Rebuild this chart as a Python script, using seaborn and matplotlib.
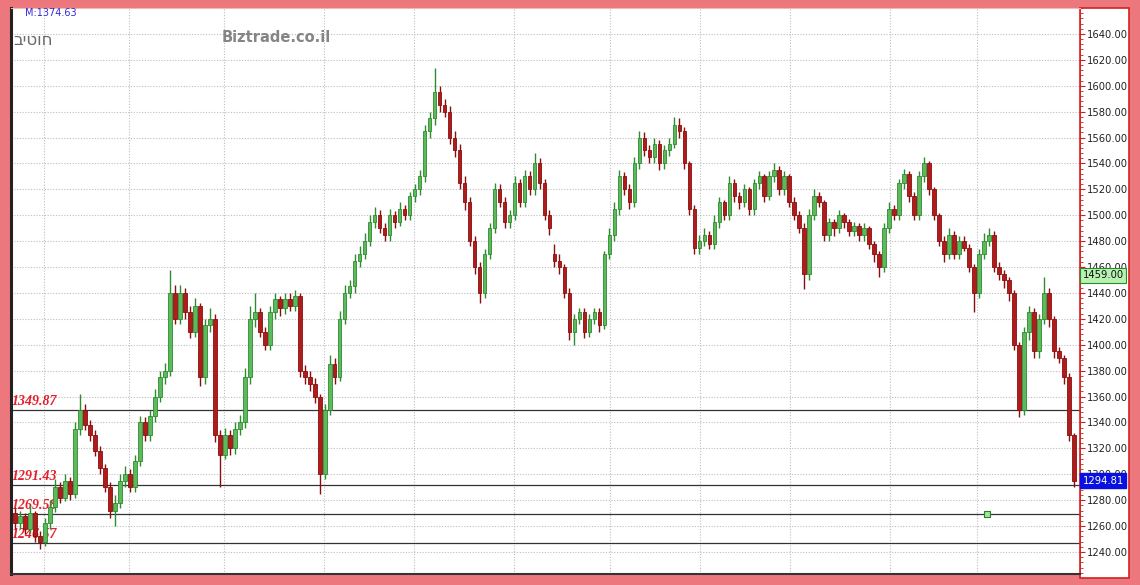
import matplotlib
matplotlib.use("Agg")
import matplotlib.pyplot as plt
from matplotlib.patches import Rectangle
from matplotlib.ticker import MultipleLocator
import seaborn as sns
import pandas as pd
import numpy as np

# daily candles (oldest first)
opens = [
    1270, 1262, 1268, 1258, 1270, 1252, 1248, 1262, 1275, 1290,
    1282, 1295, 1285, 1335, 1350, 1338, 1330, 1318, 1305, 1290,
    1272, 1278, 1295, 1300, 1290, 1310, 1340, 1330, 1345, 1360,
    1375, 1380, 1440, 1420, 1440, 1425, 1410, 1430, 1375, 1415,
    1420, 1330, 1315, 1330, 1320, 1335, 1340, 1375, 1420, 1425,
    1410, 1400, 1425, 1435, 1428, 1435, 1430, 1438, 1380, 1375,
    1370, 1360, 1300, 1350, 1385, 1375, 1420, 1440, 1445, 1465,
    1470, 1480, 1495, 1500, 1490, 1485, 1500, 1495, 1505, 1500,
    1515, 1520, 1530, 1565, 1575, 1595, 1585, 1580, 1560, 1550,
    1525, 1510, 1480, 1460, 1440, 1470, 1490, 1520, 1510, 1495,
    1500, 1525, 1510, 1530, 1520, 1540, 1525, 1500, 1470, 1465,
    1460, 1440, 1410, 1420, 1425, 1410, 1420, 1425, 1415, 1470,
    1485, 1505, 1530, 1520, 1510, 1540, 1560, 1550, 1545, 1555,
    1540, 1550, 1555, 1570, 1565, 1540, 1505, 1475, 1480, 1485,
    1478, 1495, 1510, 1500, 1525, 1515, 1510, 1520, 1505, 1525,
    1530, 1515, 1530, 1535, 1520, 1530, 1510, 1500, 1490, 1455,
    1500, 1515, 1510, 1485, 1495, 1490, 1500, 1495, 1488, 1492,
    1485, 1490, 1478, 1470, 1460, 1490, 1505, 1500, 1525, 1532,
    1515, 1500, 1530, 1540, 1520, 1500, 1480, 1470, 1485, 1470,
    1480, 1475, 1460, 1440, 1470, 1480, 1485, 1460, 1455, 1450,
    1440, 1400, 1350, 1410, 1425, 1395, 1420, 1440, 1420, 1395,
    1390, 1375, 1330,
]
highs = [
    1274, 1272, 1270, 1276, 1272, 1256, 1266, 1280, 1296, 1294,
    1300, 1298, 1340, 1362, 1354, 1342, 1334, 1322, 1308, 1294,
    1284, 1300, 1306, 1304, 1315, 1345, 1344, 1350, 1366, 1380,
    1386, 1458, 1446, 1446, 1444, 1430, 1436, 1432, 1420, 1428,
    1424, 1334, 1336, 1334, 1340, 1346, 1382, 1430, 1440, 1428,
    1414, 1430, 1440, 1438, 1440, 1440, 1442, 1440, 1384, 1380,
    1374, 1362, 1354, 1392, 1390, 1426, 1446, 1450, 1470, 1476,
    1486, 1500, 1506, 1504, 1494, 1505, 1503, 1510, 1508, 1518,
    1524, 1535, 1570, 1580, 1614, 1600, 1590, 1584, 1565, 1555,
    1530, 1514, 1484, 1464, 1474, 1494, 1525, 1524, 1514, 1504,
    1530, 1528, 1535, 1534, 1548, 1544, 1528, 1504, 1478, 1470,
    1462, 1444, 1424, 1428, 1428, 1424, 1428, 1428, 1472, 1490,
    1510, 1535, 1533, 1524, 1545, 1565, 1564, 1554, 1560, 1558,
    1554, 1560, 1576, 1575, 1568, 1542, 1508, 1485, 1490, 1488,
    1500, 1514, 1512, 1530, 1528, 1518, 1524, 1522, 1528, 1534,
    1532, 1534, 1540, 1538, 1534, 1532, 1514, 1503, 1494, 1505,
    1520, 1518, 1512, 1498, 1497, 1504, 1502, 1497, 1495, 1494,
    1494, 1492, 1480, 1472, 1494, 1510, 1508, 1528, 1536, 1534,
    1518, 1534, 1545, 1542, 1522, 1502, 1484, 1490, 1488, 1484,
    1484, 1478, 1462, 1474, 1486, 1490, 1488, 1464, 1458, 1452,
    1442, 1402, 1414, 1430, 1428, 1424, 1452, 1444, 1422, 1398,
    1392, 1378, 1332,
]
lows = [
    1258, 1258, 1254, 1255, 1248, 1242, 1245, 1258, 1271, 1278,
    1279, 1280, 1282, 1330, 1334, 1326, 1314, 1300, 1286, 1266,
    1260, 1274, 1290, 1286, 1286, 1306, 1326, 1326, 1340, 1356,
    1370, 1376, 1416, 1416, 1420, 1405, 1406, 1368, 1370, 1410,
    1325, 1290, 1312, 1315, 1316, 1330, 1336, 1370, 1414, 1406,
    1396, 1396, 1420, 1422, 1424, 1426, 1426, 1375, 1370, 1364,
    1355, 1285, 1296, 1346, 1370, 1372, 1416, 1436, 1440, 1460,
    1466, 1476, 1490, 1486, 1480, 1480, 1490, 1492, 1496, 1496,
    1510, 1516, 1526, 1560, 1570, 1580, 1576, 1555, 1545, 1520,
    1504, 1476, 1455, 1432, 1436, 1466, 1486, 1506, 1490, 1490,
    1496, 1506, 1506, 1516, 1516, 1520, 1496, 1485, 1460, 1455,
    1436, 1404, 1400, 1416, 1405, 1406, 1416, 1410, 1412, 1466,
    1480, 1500, 1516, 1505, 1506, 1536, 1546, 1540, 1540, 1535,
    1536, 1546, 1552, 1560, 1536, 1500, 1470, 1470, 1476, 1474,
    1474, 1490, 1496, 1496, 1510, 1505, 1506, 1500, 1500, 1520,
    1510, 1512, 1526, 1516, 1516, 1506, 1496, 1486, 1443, 1450,
    1496, 1506, 1480, 1480, 1484, 1486, 1490, 1484, 1484, 1480,
    1480, 1474, 1464, 1452, 1456, 1486, 1496, 1496, 1520, 1510,
    1496, 1496, 1526, 1516, 1496, 1476, 1464, 1466, 1466, 1466,
    1472, 1456, 1425, 1436, 1466, 1476, 1456, 1450, 1444, 1434,
    1396, 1344, 1346, 1404, 1390, 1390, 1416, 1414, 1390, 1386,
    1370, 1326, 1290,
]
closes = [
    1262, 1268, 1258, 1270, 1252, 1248, 1262, 1275, 1290, 1282,
    1295, 1285, 1335, 1350, 1338, 1330, 1318, 1305, 1290, 1272,
    1278, 1295, 1300, 1290, 1310, 1340, 1330, 1345, 1360, 1375,
    1380, 1440, 1420, 1440, 1425, 1410, 1430, 1375, 1415, 1420,
    1330, 1315, 1330, 1320, 1335, 1340, 1375, 1420, 1425, 1410,
    1400, 1425, 1435, 1428, 1435, 1430, 1438, 1380, 1375, 1370,
    1360, 1300, 1350, 1385, 1375, 1420, 1440, 1445, 1465, 1470,
    1480, 1495, 1500, 1490, 1485, 1500, 1495, 1505, 1500, 1515,
    1520, 1530, 1565, 1575, 1595, 1585, 1580, 1560, 1550, 1525,
    1510, 1480, 1460, 1440, 1470, 1490, 1520, 1510, 1495, 1500,
    1525, 1510, 1530, 1520, 1540, 1525, 1500, 1490, 1465, 1460,
    1440, 1410, 1420, 1425, 1410, 1420, 1425, 1415, 1470, 1485,
    1505, 1530, 1520, 1510, 1540, 1560, 1550, 1545, 1555, 1540,
    1550, 1555, 1570, 1565, 1540, 1505, 1475, 1480, 1485, 1478,
    1495, 1510, 1500, 1525, 1515, 1510, 1520, 1505, 1525, 1530,
    1515, 1530, 1535, 1520, 1530, 1510, 1500, 1490, 1455, 1500,
    1515, 1510, 1485, 1495, 1490, 1500, 1495, 1488, 1492, 1485,
    1490, 1478, 1470, 1460, 1490, 1505, 1500, 1525, 1532, 1515,
    1500, 1530, 1540, 1520, 1500, 1480, 1470, 1485, 1470, 1480,
    1475, 1460, 1440, 1470, 1480, 1485, 1460, 1455, 1450, 1440,
    1400, 1350, 1410, 1425, 1395, 1420, 1440, 1420, 1395, 1390,
    1375, 1330, 1294.81,
]

levels = [1349.87, 1291.43, 1269.58, 1246.57]
price_ticks = list(range(1240, 1641, 20))
month_starts = [5.8, 22.8, 41.8, 61.8, 79.8, 99.8, 119.2, 137.2, 155.2, 175.2, 192.6]
last_price = 1294.81
cursor_price = 1459.00
mark_price = 1374.63
alert_at = 194.6
sector_name = "ביטוח"
site_name = "Biztrade.co.il"

sns.set_theme(style="white")
plt.rcParams['font.family'] = ['DejaVu Sans']

df = pd.DataFrame({"open": opens, "high": highs, "low": lows, "close": closes})
df["day"] = np.arange(len(df))
df["up"] = df["close"] >= df["open"]
df["body_lo"] = df[["open", "close"]].min(axis=1)
df["body_h"] = (df["close"] - df["open"]).abs().clip(lower=1.2)

W, H = 1140, 585
fig = plt.figure(figsize=(W / 100, H / 100), dpi=100, facecolor="#EC777C")

# white price panel on the right
fig.add_artist(Rectangle((1080 / W, 1 - 578 / H), 49 / W, 570 / H,
                         transform=fig.transFigure, facecolor="white",
                         edgecolor="#D42020", lw=1.2, zorder=0))

ax = fig.add_axes([11 / W, 1 - 574 / H, 1069 / W, 566 / H])
ax.set_facecolor("white")

up_face, up_edge = "#5CBA5C", "#2E8B2E"
dn_face, dn_edge = "#AE1C1C", "#8A0E0E"

for is_up, face, edge in [(True, up_face, up_edge), (False, dn_face, dn_edge)]:
    part = df[df["up"] == is_up]
    ax.vlines(part["day"], part["low"], part["high"], color=edge, lw=1.0, zorder=3)
    ax.bar(part["day"], part["body_h"], bottom=part["body_lo"], width=0.72,
           color=face, edgecolor=edge, linewidth=0.6, zorder=4)

# support / resistance lines with labels
for lv in levels:
    ax.axhline(lv, color="#333333", lw=0.9, zorder=2)
    ax.annotate(f"{lv:.2f}", xy=(-0.6, lv), xytext=(0, 1.5), textcoords="offset points",
                ha="left", va="bottom", fontsize=10, color="#E41E2A",
                family="Liberation Serif", style="italic", weight="bold", zorder=2)

sns.scatterplot(x=[alert_at], y=[levels[2]], marker="s", s=22, color="#9BE89B",
                edgecolor="#2E7D2E", linewidth=0.8, ax=ax, zorder=5, legend=False)

ax.set_xlim(-0.8, 213.2)
ax.set_ylim(1223, 1660)

ax.set_xticks(month_starts)
ax.set_xticklabels([])
ax.tick_params(axis="x", length=0)
ax.yaxis.tick_right()
ax.set_yticks(price_ticks)
ax.set_yticklabels([f"{v:.2f}" for v in price_ticks])
ax.yaxis.set_minor_locator(MultipleLocator(4))
ax.tick_params(axis="y", which="major", direction="out", length=3.5, width=0.8,
               color="#D42020", labelsize=7.2, labelcolor="#222222", pad=1.5)
ax.tick_params(axis="y", which="minor", direction="out", length=2, width=0.6,
               color="#D42020", right=True)
ax.grid(True, which="major", ls=(0, (1, 1.5)), color="#BDBDBD", lw=0.8, zorder=0)

ax.spines["left"].set_color("#222222")
ax.spines["left"].set_linewidth(2.2)
ax.spines["bottom"].set_color("#333333")
ax.spines["bottom"].set_linewidth(1.5)
ax.spines["top"].set_color("#F2B8B8")
ax.spines["top"].set_linewidth(0.8)
ax.spines["right"].set_color("#D42020")
ax.spines["right"].set_linewidth(1.2)

# price flags on the right panel
ytr = ax.get_yaxis_transform()
ax.text(1.0025, last_price, f"{last_price:.2f}", transform=ytr, ha="left", va="center",
        fontsize=7.2, color="white", clip_on=False, zorder=6,
        bbox=dict(boxstyle="square,pad=0.25", fc="#0A10E0", ec="#0A10E0"))
ax.text(1.0025, cursor_price - 1.5, f"{cursor_price:.2f}", transform=ytr, ha="left", va="top",
        fontsize=7.2, color="#111111", clip_on=False, zorder=6,
        bbox=dict(boxstyle="square,pad=0.25", fc="#B8F2B2", ec="#2A8A2A", lw=0.8))

# header texts
fig.text(25 / W, 1 - 13 / H, f"M:{mark_price:.2f}", fontsize=7, color="#2D2DD8",
         ha="left", va="center")
fig.text(13 / W, 1 - 40 / H, sector_name, fontsize=12, color="#6A6A6A",
         ha="left", va="center")
fig.text(222 / W, 1 - 38 / H, site_name, fontsize=10.5, weight="bold", color="#858585",
         ha="left", va="center")

fig.savefig("out.png", dpi=100, facecolor=fig.get_facecolor())
